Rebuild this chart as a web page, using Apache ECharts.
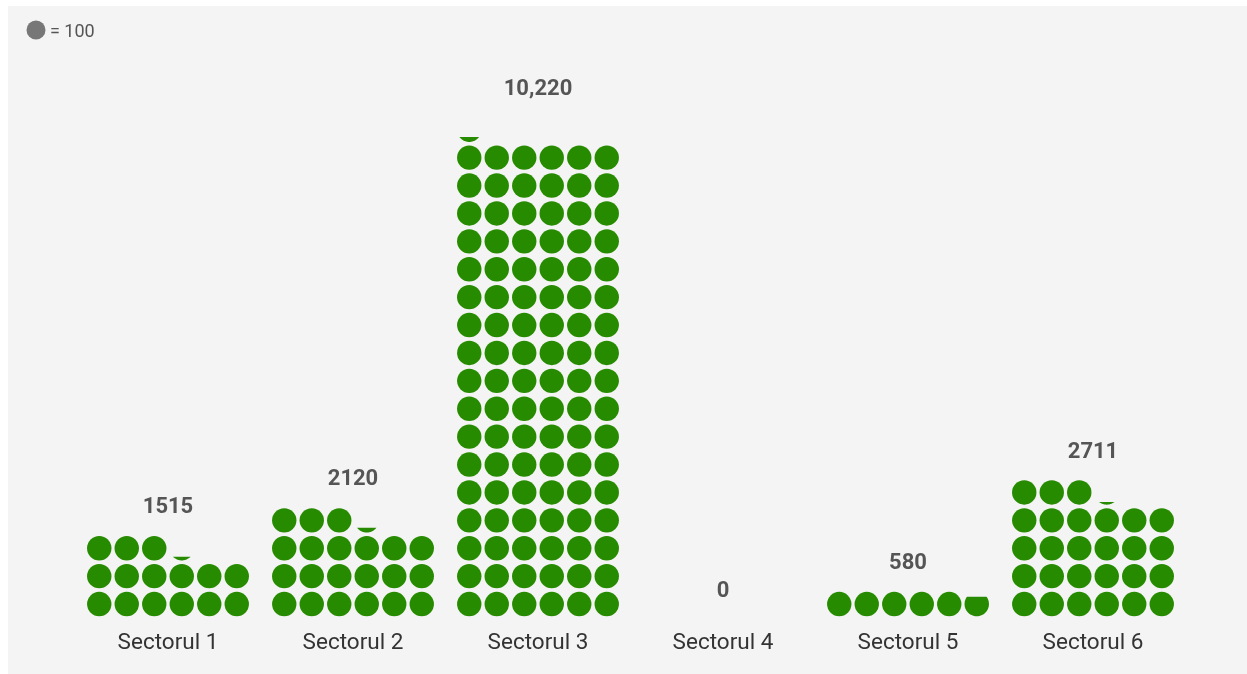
<!DOCTYPE html>
<html>
<head>
<meta charset="utf-8">
<script src="https://cdn.jsdelivr.net/npm/echarts@6/dist/echarts.min.js"></script>
<style>
  html, body { margin: 0; padding: 0; background: #ffffff; }
  #panel { position: absolute; left: 8px; top: 6px; right: 0; bottom: 0; background: #f4f4f4; }
  #chart { position: absolute; left: 0; top: 0; width: 1247px; height: 674px; }
</style>
</head>
<body>
<div id="panel"></div>
<div id="chart"></div>
<script>
const categories = ['Sectorul 1', 'Sectorul 2', 'Sectorul 3', 'Sectorul 4', 'Sectorul 5', 'Sectorul 6'];
const values = [1515, 2120, 10220, 0, 580, 2711];
const UNIT = 100;
const PER_ROW = 6;
const legendText = '= 100';

const GREEN = '#278b00';
const R = 12.2;
const COL_W = 27.5;

function fmt(v) {
  return v >= 10000 ? v.toLocaleString('en-US') : String(v);
}

const chart = echarts.init(document.getElementById('chart'), null, { renderer: 'canvas' });

function renderItem(params, api) {
  const ci = api.value(0);
  const v = api.value(1);
  const base = api.coord([ci, 0]);
  const cx0 = base[0];
  const full = Math.floor(v / UNIT);
  const frac = (v - full * UNIT) / UNIT;
  const children = [];
  const pos = i => {
    const col = i % PER_ROW;
    const row = Math.floor(i / PER_ROW);
    return [cx0 + (col - (PER_ROW - 1) / 2) * COL_W, api.coord([ci, row + 0.5])[1]];
  };
  for (let i = 0; i < full; i++) {
    const p = pos(i);
    children.push({ type: 'circle', shape: { cx: p[0], cy: p[1], r: R }, style: { fill: GREEN } });
  }
  let slots = full;
  if (frac > 0) {
    const p = pos(full);
    const h = frac * 2 * R;
    const s = (R - h) / R;
    const a0 = Math.asin(Math.max(-1, Math.min(1, s)));
    const a1 = Math.PI - a0;
    const pts = [];
    const N = 40;
    for (let k = 0; k <= N; k++) {
      const a = a0 + (a1 - a0) * k / N;
      pts.push([p[0] + R * Math.cos(a), p[1] + R * Math.sin(a)]);
    }
    children.push({ type: 'polygon', shape: { points: pts }, style: { fill: GREEN } });
    slots += 1;
  }
  const rows = Math.ceil(slots / PER_ROW);
  const ty = api.coord([ci, rows])[1] - 26.5;
  children.push({
    type: 'text',
    style: {
      x: cx0, y: ty, text: fmt(v),
      fill: '#555555', font: 'bold 22px Roboto',
      align: 'center', verticalAlign: 'middle'
    }
  });
  return { type: 'group', children: children };
}

chart.setOption({
  backgroundColor: 'transparent',
  animation: false,
  grid: { left: 75.5, right: 61.5, top: 60, bottom: 56 },
  xAxis: {
    type: 'category',
    data: categories,
    axisLine: { show: false },
    axisTick: { show: false },
    axisLabel: { color: '#333333', fontSize: 22.5, fontFamily: 'Roboto', margin: 14 }
  },
  yAxis: { type: 'value', min: 0, max: 20, show: false, splitLine: { show: false } },
  graphic: [
    { type: 'circle', shape: { cx: 36, cy: 30, r: 9.5 }, style: { fill: '#777777' } },
    { type: 'text', style: { x: 50, y: 32, text: legendText, fill: '#555555', font: '18px Roboto', verticalAlign: 'middle' } }
  ],
  series: [{
    type: 'custom',
    renderItem: renderItem,
    data: values.map((v, i) => [i, v]),
    clip: false
  }]
});
</script>
</body>
</html>
